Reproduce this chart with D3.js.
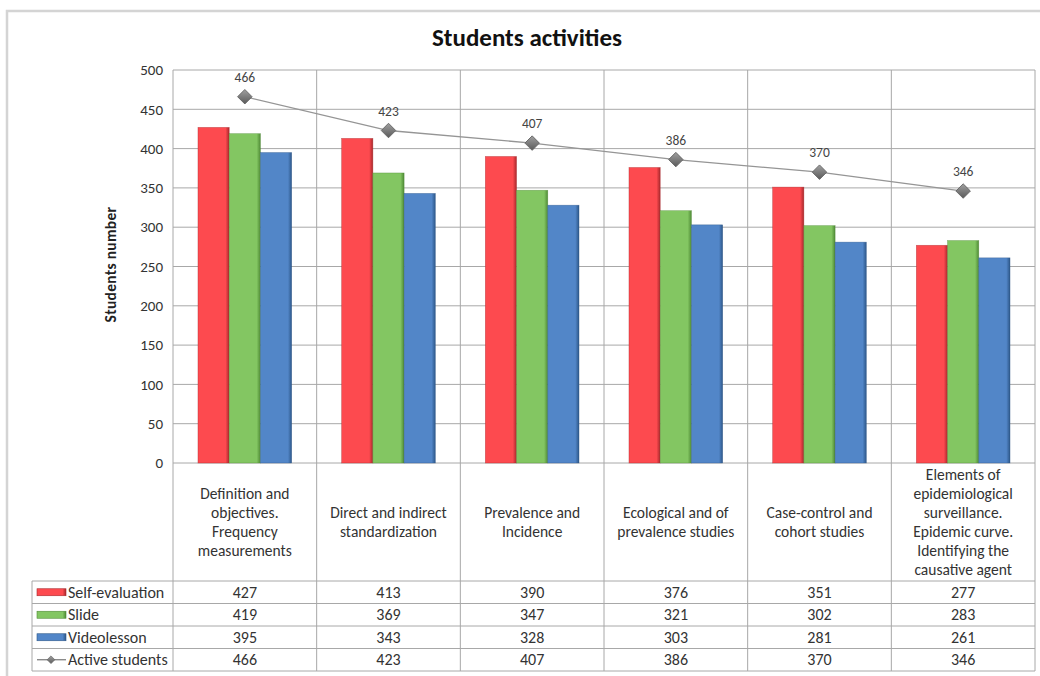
<!DOCTYPE html>
<html>
<head>
<meta charset="utf-8">
<script src="https://cdn.jsdelivr.net/npm/d3@7"></script>
<style>
  body { margin: 0; background: #fff; }
  text { font-family: Carlito, Lato, "Liberation Sans", sans-serif; }
</style>
</head>
<body>
<svg id="chart" width="1040" height="676"></svg>
<script>
const categories = [
  ["Definition and", "objectives.", "Frequency", "measurements"],
  ["Direct and indirect", "standardization"],
  ["Prevalence and", "Incidence"],
  ["Ecological  and of", "prevalence studies"],
  ["Case-control and", "cohort studies"],
  ["Elements of", "epidemiological", "surveillance.", "Epidemic curve.", "Identifying the", "causative agent"]
];
const seriesNames = ["Self-evaluation", "Slide", "Videolesson"];
const selfEvaluation = [427, 413, 390, 376, 351, 277];
const slide = [419, 369, 347, 321, 302, 283];
const videolesson = [395, 343, 328, 303, 281, 261];
const activeStudents = [466, 423, 407, 386, 370, 346];
const yTicks = [0, 50, 100, 150, 200, 250, 300, 350, 400, 450, 500];

const barSeries = [selfEvaluation, slide, videolesson];
const colors = ["#fd4a4f", "#83c662", "#5286c8"];
const darks = ["#a8282c", "#4f8a35", "#2d5789"];
const gridColor = "#a8a8a8";

const svg = d3.select("#chart");
const plotL = 173, plotR = 1035, plotT = 70, plotB = 463;
const tableL = 32, labelBottom = 581, rowH = 22.5;

// outer chart frame
svg.append("rect").attr("x", 7).attr("y", 11).attr("width", 1040).attr("height", 700)
  .attr("fill", "none").attr("stroke", "#d4d4d4").attr("stroke-width", 2.5);

const x = d3.scaleBand().domain(d3.range(categories.length)).range([plotL, plotR]);
const xs = d3.scaleBand().domain(d3.range(barSeries.length)).range([0, x.bandwidth()])
  .paddingInner(0).paddingOuter(0.8);
const y = d3.scaleLinear().domain([0, 500]).range([plotB, plotT]);

// gradients for bar shading
const defs = svg.append("defs");
colors.forEach((c, i) => {
  const g = defs.append("linearGradient").attr("id", "g" + i).attr("x1", 0).attr("x2", 1).attr("y1", 0).attr("y2", 0);
  g.append("stop").attr("offset", "0%").attr("stop-color", c);
  g.append("stop").attr("offset", "88%").attr("stop-color", c);
  g.append("stop").attr("offset", "100%").attr("stop-color", darks[i]);
});
const dg = defs.append("linearGradient").attr("id", "dia").attr("x1", 0).attr("x2", 1).attr("y1", 0).attr("y2", 1);
dg.append("stop").attr("offset", "0%").attr("stop-color", "#a0a0a0");
dg.append("stop").attr("offset", "100%").attr("stop-color", "#5a5a5a");

// horizontal grid
svg.append("g").selectAll("line").data(yTicks).join("line")
  .attr("x1", plotL).attr("x2", plotR)
  .attr("y1", d => y(d)).attr("y2", d => y(d))
  .attr("stroke", gridColor).attr("stroke-width", 1);

// vertical category lines through plot and table
const tableBottom = labelBottom + rowH * 4;
const vx = d3.range(categories.length).map(i => x(i)).concat([plotR]);
svg.append("g").selectAll("line").data(vx).join("line")
  .attr("x1", d => d).attr("x2", d => d)
  .attr("y1", plotT).attr("y2", tableBottom)
  .attr("stroke", gridColor).attr("stroke-width", 1);

// table horizontal lines
svg.append("g").selectAll("line").data(d3.range(5)).join("line")
  .attr("x1", tableL).attr("x2", plotR)
  .attr("y1", i => labelBottom + i * rowH).attr("y2", i => labelBottom + i * rowH)
  .attr("stroke", gridColor).attr("stroke-width", 1);
svg.append("line").attr("x1", tableL).attr("x2", tableL)
  .attr("y1", labelBottom).attr("y2", tableBottom)
  .attr("stroke", gridColor).attr("stroke-width", 1);

// bars
barSeries.forEach((vals, s) => {
  svg.append("g").selectAll("rect").data(vals).join("rect")
    .attr("x", (d, i) => x(i) + xs(s))
    .attr("y", d => y(d))
    .attr("width", xs.bandwidth())
    .attr("height", d => plotB - y(d))
    .attr("fill", "url(#g" + s + ")")
    .attr("stroke", darks[s]).attr("stroke-width", 0.6).attr("stroke-opacity", 0.6);
});

// active students line
const cx = i => x(i) + x.bandwidth() / 2;
const line = d3.line().x((d, i) => cx(i)).y(d => y(d));
svg.append("path").datum(activeStudents).attr("d", line)
  .attr("fill", "none").attr("stroke", "#959595").attr("stroke-width", 1.3);
const diamond = d3.symbol().type(d3.symbolSquare).size(105);
svg.append("g").selectAll("path").data(activeStudents).join("path")
  .attr("d", diamond)
  .attr("transform", (d, i) => `translate(${cx(i)},${y(d)}) rotate(45)`)
  .attr("fill", "url(#dia)").attr("stroke", "#5e5e5e").attr("stroke-width", 0.8);
svg.append("g").selectAll("text").data(activeStudents).join("text")
  .attr("x", (d, i) => cx(i)).attr("y", d => y(d) - 15)
  .attr("text-anchor", "middle").attr("font-size", 13.5).attr("fill", "#444")
  .text(d => d);

// y axis labels
svg.append("g").selectAll("text").data(yTicks).join("text")
  .attr("x", 163).attr("y", d => y(d)).attr("dy", "0.35em")
  .attr("text-anchor", "end").attr("font-size", 15).attr("fill", "#333")
  .text(d => d);

svg.append("text")
  .attr("transform", `translate(116,${(plotT + plotB) / 2 - 2}) rotate(-90)`)
  .attr("text-anchor", "middle").attr("font-size", 15.5).attr("font-weight", "bold").attr("fill", "#222")
  .attr("letter-spacing", 0.3)
  .text("Students number");

// title
svg.append("text").attr("x", 527).attr("y", 46)
  .attr("text-anchor", "middle").attr("font-size", 25).attr("font-weight", "bold").attr("fill", "#111")
  .text("Students activities");

// category labels
const lh = 19;
const catMid = (plotB + labelBottom) / 2;
categories.forEach((lines, i) => {
  const t = svg.append("text").attr("text-anchor", "middle").attr("font-size", 15.5).attr("fill", "#333");
  lines.forEach((ln, j) => {
    t.append("tspan").attr("x", cx(i))
      .attr("y", catMid + (j - (lines.length - 1) / 2) * lh).attr("dy", "0.35em")
      .text(ln);
  });
});

// data table rows
const rows = barSeries.concat([activeStudents]);
const rowNames = seriesNames.concat(["Active students"]);
rows.forEach((vals, r) => {
  const ry = labelBottom + r * rowH + rowH / 2;
  svg.append("g").selectAll("text").data(vals).join("text")
    .attr("x", (d, i) => cx(i)).attr("y", ry).attr("dy", "0.35em")
    .attr("text-anchor", "middle").attr("font-size", 16).attr("fill", "#333")
    .text(d => d);
  svg.append("text").attr("x", 68).attr("y", ry).attr("dy", "0.35em")
    .attr("font-size", 16).attr("fill", "#333").text(rowNames[r]);
  if (r < 3) {
    svg.append("rect").attr("x", 37).attr("y", ry - 3.5).attr("width", 29).attr("height", 7)
      .attr("fill", "url(#g" + r + ")").attr("stroke", darks[r]).attr("stroke-width", 0.6);
  } else {
    svg.append("line").attr("x1", 37).attr("x2", 66).attr("y1", ry).attr("y2", ry)
      .attr("stroke", "#777").attr("stroke-width", 1.2);
    svg.append("path").attr("d", d3.symbol().type(d3.symbolSquare).size(30)())
      .attr("transform", `translate(51,${ry}) rotate(45)`)
      .attr("fill", "url(#dia)").attr("stroke", "#5e5e5e").attr("stroke-width", 0.6);
  }
});
</script>
</body>
</html>
